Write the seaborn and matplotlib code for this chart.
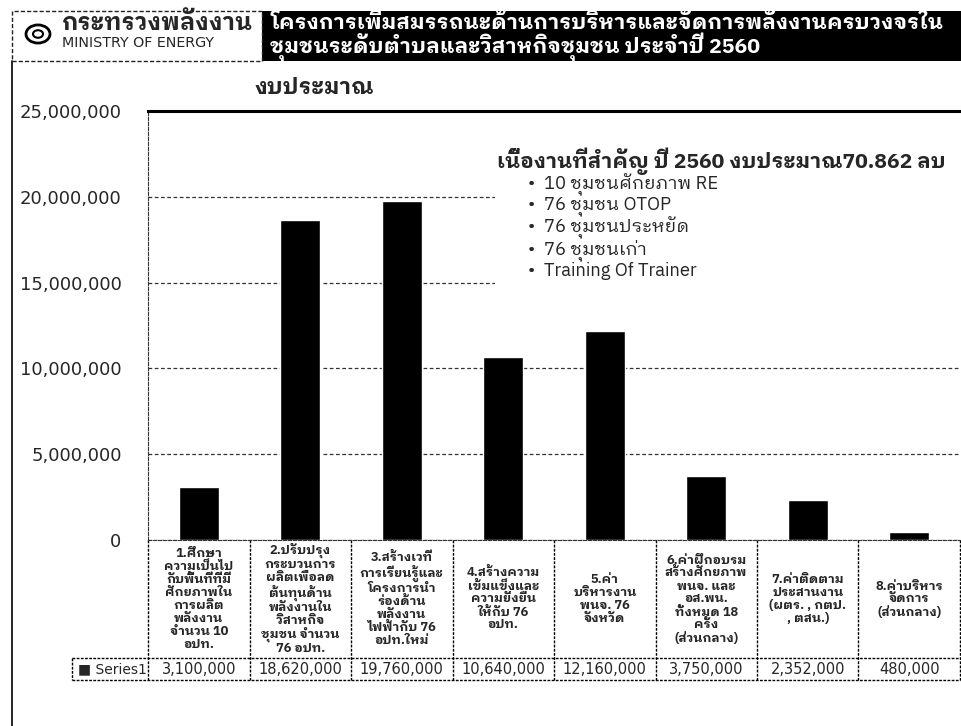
import matplotlib
matplotlib.use("Agg")
import matplotlib.pyplot as plt
from matplotlib.patches import Rectangle, Circle
from matplotlib.lines import Line2D
import seaborn as sns
import pandas as pd

# ---------------- data ----------------
categories = [
    "1.ศึกษา\nความเป็นไป\nกับพื้นที่ที่มี\nศักยภาพใน\nการผลิต\nพลังงาน\nจำนวน 10\nอปท.",
    "2.ปรับปรุง\nกระบวนการ\nผลิตเพื่อลด\nต้นทุนด้าน\nพลังงานใน\nวิสาหกิจ\nชุมชน จำนวน\n76 อปท.",
    "3.สร้างเวที\nการเรียนรู้และ\nโครงการนำ\nร่องด้าน\nพลังงาน\nไฟฟ้ากับ 76\nอปท.ใหม่",
    "4.สร้างความ\nเข้มแข็งและ\nความยั่งยืน\nให้กับ 76\nอปท.",
    "5.ค่า\nบริหารงาน\nพนจ. 76\nจังหวัด",
    "6.ค่าฝึกอบรม\nสร้างศักยภาพ\nพนจ. และ\nอส.พน.\nทั้งหมด 18\nครั้ง\n(ส่วนกลาง)",
    "7.ค่าติดตาม\nประสานงาน\n(ผตร. , กตป.\n, ตสน.)",
    "8.ค่าบริหาร\nจัดการ\n(ส่วนกลาง)",
]
values = [3100000, 18620000, 19760000, 10640000, 12160000, 3750000, 2352000, 480000]
value_labels = ["3,100,000", "18,620,000", "19,760,000", "10,640,000",
                "12,160,000", "3,750,000", "2,352,000", "480,000"]
series_name = "Series1"
yticks = [0, 5000000, 10000000, 15000000, 20000000, 25000000]
ytick_labels = ["0", "5,000,000", "10,000,000", "15,000,000", "20,000,000", "25,000,000"]

header_line1 = "โครงการเพิ่มสมรรถนะด้านการบริหารและจัดการพลังงานครบวงจรใน"
header_line2 = "ชุมชนระดับตำบลและวิสาหกิจชุมชน ประจำปี 2560"
ministry_th = "กระทรวงพลังงาน"
ministry_en = "MINISTRY OF ENERGY"
subtitle = "งบประมาณ"
note_title = "เนื้องานที่สำคัญ ปี 2560 งบประมาณ70.862 ลบ"
note_items = ["10 ชุมชนศักยภาพ RE", "76 ชุมชน OTOP", "76 ชุมชนประหยัด",
              "76 ชุมชนเก่า", "Training Of Trainer"]

# ---------------- style ----------------
sns.set_style("white")
LATIN = ["DejaVu Sans", "IBM Plex Sans Thai Looped"]
THAI = ["IBM Plex Sans Thai Looped", "DejaVu Sans"]
plt.rcParams["font.family"] = LATIN

W, H = 962, 726
fig = plt.figure(figsize=(W / 100, H / 100), dpi=100)

def fx(px):
    return px / W

def fy(py):
    return 1 - py / H

L, R, T, B = 148, 960, 111, 540
ax = fig.add_axes([fx(L), fy(B), fx(R - L), (B - T) / H])

df = pd.DataFrame({"cat": list(range(len(values))), "value": values})
sns.barplot(data=df, x="cat", y="value", color="black", width=0.39,
            saturation=1, ax=ax, zorder=3)
ax.set_xlim(-0.5, len(values) - 0.5)
ax.set_ylim(0, 25000000)
ax.set_yticks(yticks)
ax.set_yticklabels(ytick_labels, fontsize=13)
ax.tick_params(axis="y", length=0, pad=19)
ax.tick_params(axis="x", length=0, labelbottom=False)
ax.set_xlabel("")
ax.set_ylabel("")
ax.yaxis.grid(True, linestyle=(0, (3, 2)), color="#333333", linewidth=0.9)
ax.set_axisbelow(True)
ax.spines["right"].set_visible(False)
ax.spines["top"].set_linewidth(2.2)
ax.spines["top"].set_color("black")
ax.spines["left"].set_linestyle((0, (3, 1.5)))
ax.spines["left"].set_color("#333333")
ax.spines["bottom"].set_linestyle((0, (3, 1.5)))
ax.spines["bottom"].set_color("#333333")

# white panel behind the note
ax.add_patch(Rectangle(((495 - L) / (R - L), (B - 290) / (B - T)),
                       (R - 495) / (R - L), (290 - 140) / (B - T),
                       transform=ax.transAxes, facecolor="white",
                       edgecolor="none", zorder=1))
ax.text((497 - L) / (R - L), (B - 161) / (B - T), note_title,
        transform=ax.transAxes, fontsize=15.2, fontweight="bold",
        family=THAI, va="center", ha="left", zorder=4)
for i, item in enumerate(note_items):
    ax.text((528 - L) / (R - L), (B - (185 + i * 21.6)) / (B - T),
            "•  " + item, transform=ax.transAxes, fontsize=13.2,
            family=THAI, va="center", ha="left", zorder=4)

# ---------------- data table under the axis ----------------
tr = ax.get_xaxis_transform()
def ay(py):
    return (B - py) / (B - T)

n = len(values)
col_w = (R - L) / n
legend_left = -0.5 - (L - 72) / col_w
lk = dict(color="black", linewidth=1.0, linestyle=(0, (2, 1)),
          transform=tr, clip_on=False)
for k in range(n + 1):
    ax.add_line(Line2D([k - 0.5, k - 0.5], [ay(540), ay(680)], **lk))
ax.add_line(Line2D([legend_left, legend_left], [ay(658), ay(680)], **lk))
ax.add_line(Line2D([legend_left, n - 0.5], [ay(658), ay(658)], **lk))
ax.add_line(Line2D([legend_left, n - 0.5], [ay(680), ay(680)], **lk))

for i, (cat, vl) in enumerate(zip(categories, value_labels)):
    ax.text(i, ay(599), cat, transform=tr, ha="center", va="center",
            fontsize=9.3, fontweight="bold", family=THAI, linespacing=1.0,
            clip_on=False)
    ax.text(i, ay(669), vl, transform=tr, ha="center", va="center",
            fontsize=10.5, clip_on=False)
ax.text(legend_left + 0.06, ay(669), "■ " + series_name, transform=tr,
        ha="left", va="center", fontsize=10, clip_on=False)

# ---------------- header ----------------
fig.patches.append(Rectangle((fx(262), fy(61)), fx(962 - 262), (61 - 11) / H,
                             transform=fig.transFigure, facecolor="black",
                             edgecolor="none"))
fig.text(fx(270), fy(23), header_line1, color="white", fontsize=15.3,
         fontweight="bold", family=THAI, va="center", ha="left")
fig.text(fx(270), fy(47), header_line2, color="white", fontsize=15.3,
         fontweight="bold", family=THAI, va="center", ha="left")
fig.patches.append(Rectangle((fx(12), fy(61)), fx(262 - 12), (61 - 11) / H,
                             transform=fig.transFigure, facecolor="none",
                             edgecolor="#222222", linewidth=1.0,
                             linestyle=(0, (3, 1.5))))
fig.text(fx(62), fy(24), ministry_th, fontsize=17, fontweight="bold",
         family=THAI, va="center", ha="left")
fig.text(fx(62), fy(43), ministry_en, fontsize=10.3, va="center", ha="left")
fig.patches.append(Circle((fx(38), fy(34)), 12 / W, transform=fig.transFigure,
                          facecolor="none", edgecolor="black", linewidth=2))
fig.patches.append(Circle((fx(38), fy(34)), 5 / W, transform=fig.transFigure,
                          facecolor="none", edgecolor="black", linewidth=1.5))
fig.text(fx(255), fy(88), subtitle, fontsize=16, fontweight="bold",
         family=THAI, va="center", ha="left")
fig.lines.append(Line2D([fx(12), fx(12)], [fy(61), fy(726)],
                        transform=fig.transFigure, color="black",
                        linewidth=1.2))

fig.savefig("out.png", dpi=100)
